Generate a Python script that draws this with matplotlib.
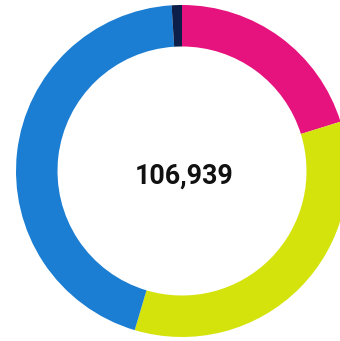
import matplotlib
matplotlib.use("Agg")
import matplotlib.pyplot as plt

# segment values, clockwise from the top
labels = ["Pink", "Yellow", "Blue", "Dark"]
values = [21602, 36787, 47481, 1069]
colors = ["#E6137E", "#D5E30C", "#1B7ED2", "#0D1E48"]
total_label = "106,939"

fig = plt.figure(figsize=(3.40, 3.41), dpi=100)
ax = fig.add_axes([0, 0, 1, 1])

ax.pie(values, colors=colors, startangle=90, counterclock=False,
       radius=1.0, wedgeprops=dict(width=0.25, linewidth=0))

ax.text(0.01, -0.03, total_label, ha="center", va="center",
        fontsize=19.3, fontweight="bold", family=["Roboto", "DejaVu Sans"],
        color="#111111")

ax.set_xlim(-182 / 166, 158 / 166)
ax.set_ylim(-170 / 166, 171 / 166)
ax.set_aspect("equal")
ax.axis("off")

fig.savefig("out.png", dpi=100)
